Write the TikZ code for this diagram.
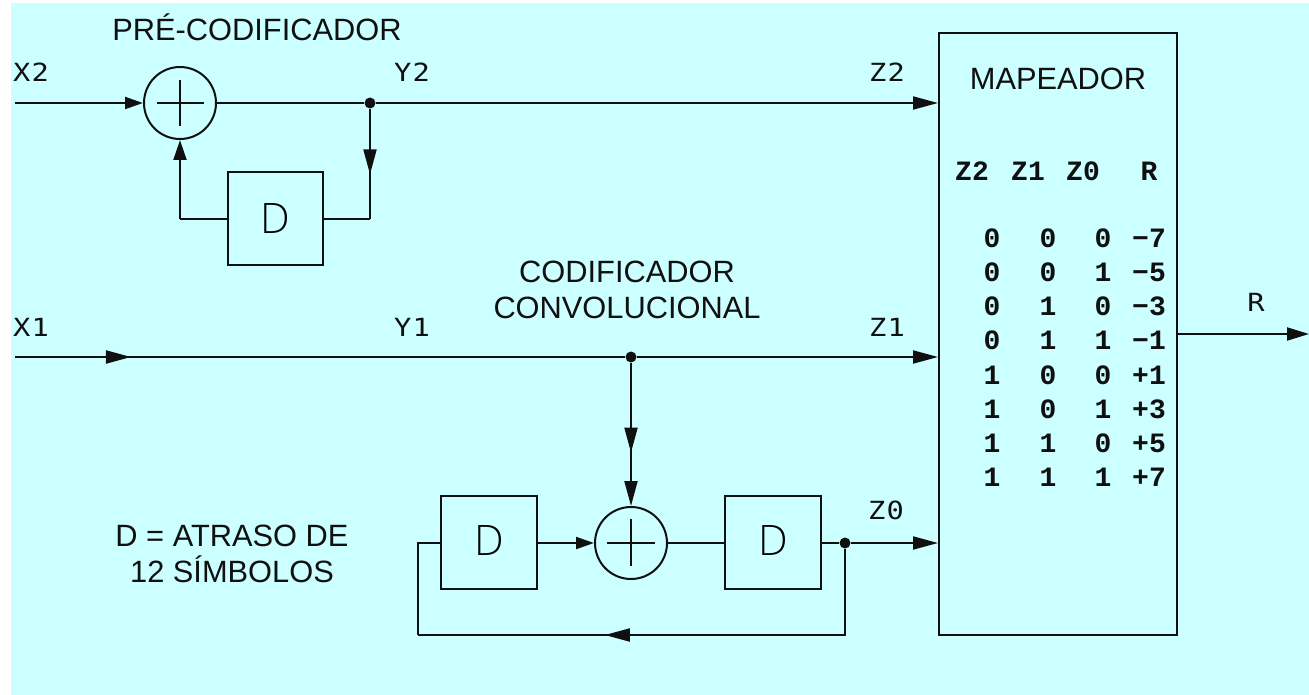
\documentclass[tikz,border=0pt]{standalone}
\usepackage{fontspec}
\usetikzlibrary{arrows.meta,decorations.markings}
\setmainfont{Liberation Sans}
\newfontfamily\tablefont{Liberation Mono}[BoldFont=* Bold]
\newfontfamily\labelfont{DejaVu Sans Mono}[FakeStretch=1.15,LetterSpace=5]
\newfontfamily\dfont{Open Sans Light}
\definecolor{bgcyan}{HTML}{CCFFFF}
\definecolor{ink}{HTML}{101010}
\tikzset{
  wire/.style={draw=ink,line width=2pt},
  longtip/.tip={Triangle[length=25pt,width=13pt]},
  shorttip/.tip={Triangle[length=18pt,width=12pt]},
  midarrow/.style={postaction={decorate},decoration={markings,mark=at position #1 with {\arrow{longtip}}}},
  delaybox/.style={draw=ink,line width=2pt,minimum width=96pt,minimum height=93pt,inner sep=0pt,font=\dfont\fontsize{42}{42}\selectfont},
  adder/.style={draw=ink,line width=2pt,circle,minimum size=72pt,inner sep=0pt},
  dotnode/.style={circle,fill=ink,minimum size=11pt,inner sep=0pt},
  siglabel/.style={font=\labelfont\fontsize{25}{25}\selectfont,text=ink,inner sep=0pt},
  title/.style={font=\fontsize{30.8}{36}\selectfont,text=ink,inner sep=0pt,align=center},
  hdr/.style={font=\tablefont\bfseries\fontsize{28}{28}\selectfont,text=ink,inner sep=0pt},
  cell/.style={font=\tablefont\bfseries\fontsize{28}{28}\selectfont,text=ink,inner sep=0pt}
}
\begin{document}
\begin{tikzpicture}[x=1pt,y=-1pt]
\useasboundingbox (0,0) rectangle (1309,695);
\fill[bgcyan] (11,3) rectangle (1309,695);
% blocks
\node[adder] (a1) at (180,103) {};
\draw[wire] (157,103)--(204,103) (180,80)--(180,126);
\node[delaybox,minimum width=95pt] (d1) at (275.5,218.5) {D};
\node[dotnode] (j1) at (370,103) {};
\node[adder] (a2) at (631,543) {};
\draw[wire] (607,543)--(655,543) (631,519)--(631,566);
\node[delaybox,text depth=4pt] (d2) at (489,542.5) {D};
\node[delaybox,text depth=4pt] (d3) at (773,542.5) {D};
\node[dotnode] (j2) at (631,357) {};
\node[dotnode] (j3) at (845,543) {};
\node[draw=ink,line width=2pt,minimum width=238pt,minimum height=602pt,inner sep=0pt] (map) at (1058,334) {};
% free ends
\coordinate (x2) at (15,103);
\coordinate (x1) at (15,357);
\coordinate (r) at (1309,334);
\coordinate (c1) at (370,219);
\coordinate (c2) at (180,219);
\coordinate (c3) at (418,543);
\coordinate (c4) at (418,635);
\coordinate (c5) at (845,635);
\coordinate (m2) at (map.west |- j1);
\coordinate (m1) at (map.west |- j2);
\coordinate (m0) at (map.west |- j3);
\coordinate (mr) at (map.east |- r);
% connectors
\draw[wire,-{shorttip}] (x2) -- (a1.west);
\draw[wire] (a1.east) -- (j1);
\draw[wire,-{longtip}] (j1) -- (m2);
\draw[wire,midarrow=0.595] (j1) -- (c1);
\draw[wire] (c1) -- (d1.east |- c1);
\draw[wire] (d1.west |- c2) -- (c2);
\draw[wire,-{Triangle[length=20pt,width=13pt]}] (c2) -- (a1.south);
\draw[wire,midarrow=0.19] (x1) -- (j2);
\draw[wire,-{longtip}] (j2) -- (m1);
\draw[wire,midarrow=0.627,-{longtip}] (j2) -- (a2.north);
\draw[wire,-{shorttip}] (d2.east |- a2) -- (a2.west);
\draw[wire] (a2.east) -- (d3.west |- a2);
\draw[wire] (d3.east |- j3) -- (j3);
\draw[wire,-{longtip}] (j3) -- (m0);
\draw[wire,midarrow=0.636] (j3) -- (c5) -- (c4);
\draw[wire] (c4) -- (c3) -- (d2.west |- c3);
\draw[wire,-{Triangle[length=22pt,width=13pt]}] (mr) -- (r);
% labels
\node[title,anchor=base] (t1) at (257,41) {PRÉ-CODIFICADOR};
\node[title] (t2) at (627,289.5) {CODIFICADOR\\CONVOLUCIONAL};
\node[title] (t3) at (232,554) {D = ATRASO DE\\12 SÍMBOLOS};
\node[title,anchor=base] (t4) at (1058,90) {MAPEADOR};
\node[siglabel] (l1) at (31,72) {X2};
\node[siglabel] (l2) at (412,72) {Y2};
\node[siglabel] (l3) at (887,72) {Z2};
\node[siglabel] (l4) at (31,327) {X1};
\node[siglabel] (l5) at (412,327) {Y1};
\node[siglabel] (l6) at (887,327) {Z1};
\node[siglabel] (l7) at (886,510.5) {Z0};
\node[siglabel] (l8) at (1256,302.5) {R};
% table
\foreach \n/\t/\x in {h1/Z2/972,h2/Z1/1028,h3/Z0/1083,h4/R/1149}
  \node[hdr] (\n) at (\x,171.5) {\t};
\foreach \i/\y/\a/\b/\c/\v in {1/238/0/0/0/−7,2/272/0/0/1/−5,3/306/0/1/0/−3,4/340/0/1/1/−1,5/375/1/0/0/+1,6/409/1/0/1/+3,7/443/1/1/0/+5,8/477/1/1/1/+7}{
  \node[cell] (ca\i) at (992,\y) {\a};
  \node[cell] (cb\i) at (1048,\y) {\b};
  \node[cell] (cc\i) at (1103,\y) {\c};
  \node[cell] (cd\i) at (1149,\y) {\v};
}
\end{tikzpicture}
\end{document}
